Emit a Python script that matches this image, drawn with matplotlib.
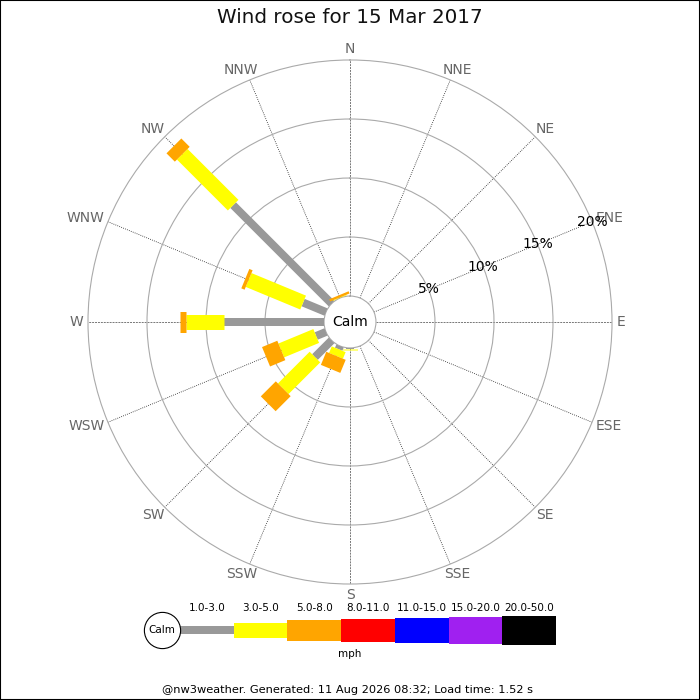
import numpy as np
import matplotlib.pyplot as plt
from matplotlib.patches import Rectangle

# directions, clockwise from north
directions = ['N', 'NNE', 'NE', 'ENE', 'E', 'ESE', 'SE', 'SSE',
              'S', 'SSW', 'SW', 'WSW', 'W', 'WNW', 'NW', 'NNW']

# frequency (%) per direction for each speed band (mph)
speed_bands = ['1.0-3.0', '3.0-5.0', '5.0-8.0', '8.0-11.0', '11.0-15.0', '15.0-20.0', '20.0-50.0']
band_colors = ['#999999', '#ffff00', '#ffa500', '#ff0000', '#0000ff', '#a020f0', '#000000']
band_widths_px = [8, 15, 21, 23, 25, 27, 29]

freq_1_3 = [0, 0, 0, 0, 0, 0, 0, 0, 0.05, 0.3, 2.0, 0.9, 8.5, 2.1, 11.8, 0.0]
freq_3_5 = [0, 0, 0, 0, 0, 0, 0, 0, 0.15, 0.6, 3.8, 3.2, 3.2, 5.0, 6.1, 0.05]
freq_5_8 = [0, 0, 0, 0, 0, 0, 0, 0, 0.0, 1.2, 1.8, 1.4, 0.5, 0.3, 1.0, 0.2]

ring_values = [5, 10, 15, 20]
calm_offset = 2.2   # size of calm hole in % units

fig = plt.figure(figsize=(7, 7), dpi=100)
fig.patches.append(Rectangle((0, 0), 1, 1, transform=fig.transFigure,
                             fill=False, edgecolor='black', linewidth=1.5))

fig.text(0.5, 0.975, 'Wind rose for 15 Mar 2017', ha='center', va='center',
         fontsize=14.3, color='#111111')

# polar axes, centred at (350, 322) px, radius 262 px
ax = fig.add_axes([0.1257, 0.1657, 0.7486, 0.7486], projection='polar')
ax.set_theta_zero_location('N')
ax.set_theta_direction(-1)
ax.set_rorigin(-calm_offset)
ax.set_ylim(0, 20)
ax.set_xticks([])
ax.set_yticks(ring_values[:-1])
ax.set_yticklabels([])
ax.xaxis.grid(False)
ax.yaxis.grid(True, color='#aaaaaa', linewidth=0.8, linestyle='-')
for name, sp in ax.spines.items():
    sp.set_color('#aaaaaa')
    sp.set_linewidth(0.8)

thetas = np.deg2rad(np.arange(16) * 22.5)

# spokes and direction labels
renderer = fig.canvas.get_renderer()
gap = 3.6
for i, th in enumerate(thetas):
    if i % 4 == 0:
        ax.plot([th, th], [0, 20], color='#777777', lw=0.7, ls=(0, (2, 1)), zorder=1)
    else:
        ax.plot([th, th], [0, 20], color='#222222', lw=0.6, ls=(0, (1, 1.5)), zorder=1)
    s, c = np.sin(th), np.cos(th)
    t = ax.annotate(directions[i], xy=(th, 20), xytext=(gap * s, gap * c),
                    textcoords='offset points', ha='center', va='center',
                    fontsize=10, color='#666666', annotation_clip=False)
    bb = t.get_window_extent(renderer)
    w, h = bb.width * 0.72, bb.height * 0.72 * 0.8
    t.xyann = (gap * s + w / 2 * s, gap * c + h / 2 * c)

# ring percentage labels along ENE
for rv in ring_values:
    ax.text(thetas[3], rv, f'{rv}%', ha='center', va='center', fontsize=10,
            color='black', zorder=5)

# stacked bars
series = [freq_1_3, freq_3_5, freq_5_8]
for i, th in enumerate(thetas):
    base = 0
    for k, vals in enumerate(series):
        v = vals[i]
        if v > 0:
            ax.plot([th, th], [base, base + v], color=band_colors[k],
                    lw=band_widths_px[k] * 0.72, solid_capstyle='butt', zorder=3)
        base += v

ax.text(0.5, 0.5, 'Calm', transform=ax.transAxes, ha='center', va='center',
        fontsize=10, color='black')

# legend strip
lax = fig.add_axes([130 / 700, 1 - 660 / 700, 440 / 700, 60 / 700])
seg = 53.7
lax.set_xlim(-50 / seg, 390 / seg)
lax.set_ylim(-30, 30)
lax.axis('off')
for k, band in enumerate(speed_bands):
    h = band_widths_px[k]
    lax.bar(k, h, bottom=-h / 2, width=1, align='edge', color=band_colors[k],
            edgecolor='none')
    lax.text(k + 0.5, 22, band, ha='center', va='center', fontsize=7.5)
lax.scatter([-18 / seg], [0], s=680, facecolor='white', edgecolor='black',
            linewidth=0.8, zorder=3)
lax.text(-18 / seg, 0, 'Calm', ha='center', va='center', fontsize=7.5, zorder=4)

fig.text(0.5, 1 - 654 / 700, 'mph', ha='center', va='center', fontsize=7.5)
fig.text(0.497, 1 - 690 / 700,
         '@nw3weather. Generated: 11 Aug 2026 08:32; Load time: 1.52 s',
         ha='center', va='center', fontsize=8.2)

fig.savefig('out.png', dpi=100)
